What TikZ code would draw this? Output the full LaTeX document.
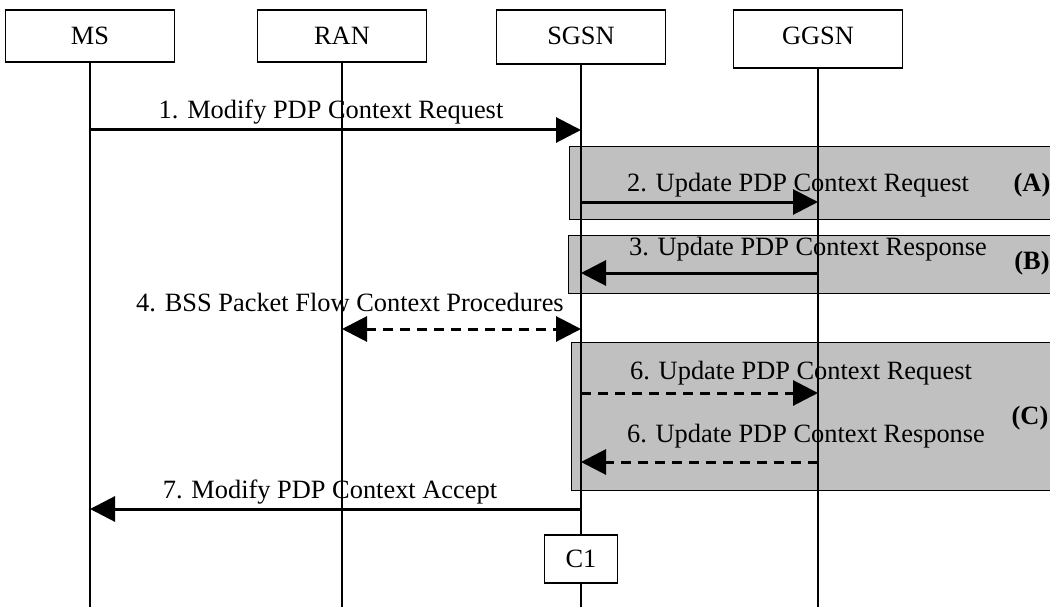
\documentclass[tikz,border=0pt]{standalone}
\usepackage{fontspec}
\setmainfont{Liberation Serif}
\usetikzlibrary{arrows.meta, positioning}
\definecolor{boxgray}{RGB}{192,192,192}
\newcommand{\msgfont}{\fontsize{26.4}{30}\selectfont}

\begin{document}
\begin{tikzpicture}[x=1pt, y=-1pt,
  entity/.style={draw, fill=white, line width=1.2pt, minimum width=169pt, minimum height=52pt, inner sep=0pt, font=\msgfont},
  lbl/.style={anchor=base, inner sep=0pt, font=\msgfont},
  tag/.style={anchor=base, inner sep=0pt, font=\msgfont\bfseries},
  msg/.style={line width=3pt, -{Triangle[length=25pt, width=25pt]}},
  dmsg/.style={msg, dash pattern=on 10pt off 7pt},
  zone/.style={draw, line width=1pt, fill=boxgray}]
  \clip (0,0) rectangle (1050,607);
  % shaded procedure areas
  \draw[zone] (569,147) rectangle (1060,219);
  \draw[zone] (568,235) rectangle (1060,293);
  \draw[zone] (571,342) rectangle (1060,490);
  \node[tag] (za) at (1032,191) {(A)};
  \node[tag] (zb) at (1032,269) {(B)};
  \node[tag] (zc) at (1030,424) {(C)};
  % entities and lifelines
  \node[entity] (ms) at (90,36) {MS};
  \node[entity] (ran) at (342,36) {RAN};
  \node[entity, minimum height=54pt, text depth=2pt] (sgsn) at (581,37) {SGSN};
  \node[entity, minimum height=58pt, text depth=6pt] (ggsn) at (818,39) {GGSN};
  \foreach \n in {ms,ran,sgsn,ggsn} {
    \coordinate (\n-end) at (\n.south |- 0,607);
    \draw[line width=1.2pt] (\n.south) -- (\n-end);
  }
  % message end points
  \foreach \n in {ms,ran,sgsn,ggsn} {
    \foreach \k/\y in {1/130, 2/202, 3/273, 4/329, 5/393, 6/462, 7/509}
      \coordinate (\n-\k) at (\n.south |- 0,\y);
  }
  % messages
  \draw[msg] (ms-1) -- (sgsn-1);
  \node[lbl] (t1) at (331,119) {1. Modify PDP Context Request};
  \draw[msg] (sgsn-2) -- (ggsn-2);
  \node[lbl] (t2) at (798,191) {2. Update PDP Context Request};
  \draw[msg] (ggsn-3) -- (sgsn-3);
  \node[lbl] (t3) at (808,255) {3. Update PDP Context Response};
  \draw[dmsg, {Triangle[length=25pt, width=25pt]}-{Triangle[length=25pt, width=25pt]}] (ran-4) -- (sgsn-4);
  \node[lbl] (t4) at (350,311) {4. BSS Packet Flow Context Procedures};
  \draw[dmsg] (sgsn-5) -- (ggsn-5);
  \node[lbl] (t5) at (801,379) {6. Update PDP Context Request};
  \draw[dmsg] (ggsn-6) -- (sgsn-6);
  \node[lbl] (t6) at (806,442) {6. Update PDP Context Response};
  \draw[msg] (sgsn-7) -- (ms-7);
  \node[lbl] (t7) at (330,498) {7. Modify PDP Context Accept};
  % charging point
  \node[entity, minimum width=73pt, minimum height=48pt] (c1) at (581,559) {C1};
\end{tikzpicture}
\end{document}
